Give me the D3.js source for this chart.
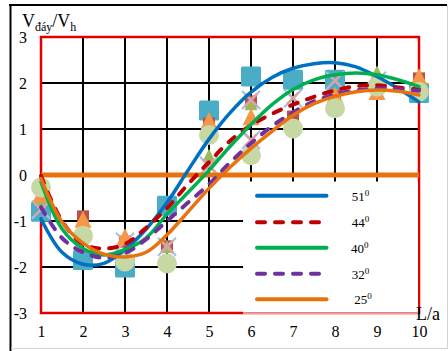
<!DOCTYPE html>
<html>
<head>
<meta charset="utf-8">
<script src="https://cdn.jsdelivr.net/npm/d3@7"></script>
<style>
  html, body { margin: 0; padding: 0; background: #fff; }
  svg { display: block; }
  text { font-family: "Liberation Serif", "Times New Roman", serif; fill: #000; }
</style>
</head>
<body>
<svg id="chart" width="448" height="351"></svg>
<script>
// L/a positions of the measured points
const xValues = [1, 2, 3, 4, 5, 6, 7, 8, 9, 10];
// sample positions of the fitted curves
const xFit = [1, 1.5, 2, 2.5, 3, 3.5, 4, 4.5, 5, 5.5, 6, 6.5, 7, 7.5, 8, 8.5, 9, 9.5, 10];

// fitted curves of V_day/V_h for each slope angle
const fit51 = [-0.95, -1.68, -1.94, -1.92, -1.62, -1.18, -0.6, 0.1, 0.78, 1.35, 1.8, 2.12, 2.32, 2.42, 2.44, 2.35, 2.14, 1.88, 1.59];
const fit44 = [-0.02, -1.0, -1.5, -1.6, -1.5, -1.15, -0.72, -0.2, 0.28, 0.74, 1.08, 1.33, 1.53, 1.7, 1.84, 1.93, 1.95, 1.9, 1.86];
const fit40 = [-0.15, -1.17, -1.6, -1.74, -1.62, -1.37, -0.85, -0.38, 0.1, 0.62, 1.1, 1.53, 1.86, 2.07, 2.18, 2.22, 2.18, 2.07, 1.92];
const fit32 = [-0.7, -1.37, -1.68, -1.8, -1.7, -1.4, -1.0, -0.6, -0.2, 0.27, 0.69, 1.06, 1.36, 1.6, 1.75, 1.84, 1.88, 1.87, 1.83];
const fit25 = [-0.08, -1.02, -1.48, -1.72, -1.78, -1.68, -1.3, -0.8, -0.29, 0.17, 0.58, 0.95, 1.3, 1.55, 1.71, 1.81, 1.85, 1.82, 1.74];

const angleLabels = ["51", "44", "40", "32", "25"];
const angleColors = ["#0070C0", "#C00000", "#00B050", "#7030A0", "#E8720C"];
const angleDashed = [false, true, false, true, false];

// measured points (null = no point)
const squarePts = [-0.8, -1.85, -2.01, -0.67, 1.4, 2.14, 2.07, 2.07, null, 1.78];
const redPts    = [null, -0.9, -1.45, -1.55, 1.12, 1.6, 1.27, 1.72, 1.95, 2.1];
const greenPts  = [-0.55, null, null, -1.58, 0.4, 1.52, null, null, 2.21, null];
const crossPts  = [-0.75, null, -1.45, -1.56, 0.2, 1.63, 1.67, 2.05, 2.05, null];
const crossPts2 = [null, null, null, null, null, 0.76, null, null, null, null];
const orangePts = [-0.45, -1.0, -1.38, null, 1.15, 1.23, null, 1.7, 1.78, 2.1];
const circlePts = [-0.27, -1.32, -1.88, -1.92, 0.87, 0.43, 1.01, 1.45, 1.92, 1.81];

const yTicks = [-3, -2, -1, 0, 1, 2, 3];
const xTicks = [1, 2, 3, 4, 5, 6, 7, 8, 9, 10];

const svg = d3.select("#chart");
const x = d3.scaleLinear().domain([1, 10]).range([41, 419]);
const y = d3.scaleLinear().domain([-3, 3]).range([313, 37]);

// outer frame
svg.append("line").attr("x1", 9).attr("x2", 447).attr("y1", 5).attr("y2", 5)
  .attr("stroke", "#000").attr("stroke-width", 2);
svg.append("line").attr("x1", 10.5).attr("x2", 10.5).attr("y1", 4).attr("y2", 351)
  .attr("stroke", "#000").attr("stroke-width", 2);
svg.append("line").attr("x1", 447.5).attr("x2", 447.5).attr("y1", 5).attr("y2", 349)
  .attr("stroke", "#d4d4d4").attr("stroke-width", 1);
svg.append("line").attr("x1", 11).attr("x2", 448).attr("y1", 348.5).attr("y2", 348.5)
  .attr("stroke", "#d4d4d4").attr("stroke-width", 1);

// grid
const grid = svg.append("g");
xTicks.filter(d => d > 1 && d < 10).forEach(d => {
  grid.append("line").attr("x1", x(d)).attr("x2", x(d)).attr("y1", y(3)).attr("y2", y(-3))
    .attr("stroke", "#000").attr("stroke-width", 2);
});
yTicks.filter(d => d > -3 && d < 3).forEach(d => {
  grid.append("line").attr("x1", x(1)).attr("x2", x(10)).attr("y1", y(d)).attr("y2", y(d))
    .attr("stroke", "#000").attr("stroke-width", 2);
});
// plot border
grid.append("rect").attr("x", x(1)).attr("y", y(3))
  .attr("width", x(10) - x(1)).attr("height", y(-3) - y(3))
  .attr("fill", "none").attr("stroke", "#E00000").attr("stroke-width", 2.5);

// markers
const mk = svg.append("g");
function pts(arr) { return xValues.map((v, i) => [v, arr[i]]).filter(d => d[1] !== null); }
const triPath = s => `M0,${-s * 0.6}L${s * 0.5},${s * 0.4}L${-s * 0.5},${s * 0.4}Z`;

mk.selectAll(".sq").data(pts(squarePts)).join("rect")
  .attr("x", d => x(d[0]) - 10).attr("y", d => y(d[1]) - 10)
  .attr("width", 20).attr("height", 20).attr("rx", 1.5)
  .attr("fill", "#4BACC6");
mk.selectAll(".rd").data(pts(redPts)).join("rect")
  .attr("x", d => x(d[0]) - 6).attr("y", d => y(d[1]) - 6)
  .attr("width", 12).attr("height", 12)
  .attr("fill", "#B9514A");
mk.selectAll(".gr").data(pts(greenPts)).join("path")
  .attr("transform", d => `translate(${x(d[0])},${y(d[1])})`)
  .attr("d", triPath(13)).attr("fill", "#9BBB59");
[crossPts, crossPts2].forEach(arr => {
  const g = mk.append("g").selectAll("g").data(pts(arr)).join("g")
    .attr("transform", d => `translate(${x(d[0])},${y(d[1])})`);
  g.append("path").attr("d", "M-9,-9L9,9M9,-9L-9,9")
    .attr("stroke", "#A7C0E0").attr("stroke-width", 2.2);
  g.append("path").attr("d", "M-6,-6L6,6M6,-6L-6,6")
    .attr("stroke", "#D8A2A6").attr("stroke-width", 2.6);
});
mk.selectAll(".or").data(pts(orangePts)).join("path")
  .attr("transform", d => `translate(${x(d[0])},${y(d[1])})`)
  .attr("d", triPath(17)).attr("fill", "#F79646");
mk.selectAll(".ci").data(pts(circlePts)).join("circle")
  .attr("cx", d => x(d[0])).attr("cy", d => y(d[1])).attr("r", 10)
  .attr("fill", "#C6D8A3");

// zero line
svg.append("line").attr("x1", x(1)).attr("x2", x(10)).attr("y1", y(0)).attr("y2", y(0))
  .attr("stroke", "#E8720C").attr("stroke-width", 5);

// fitted curves
const fits = [fit51, fit44, fit40, fit32, fit25];
const line = d3.line().x(d => x(d[0])).y(d => y(d[1])).curve(d3.curveCatmullRom.alpha(0.5));
fits.forEach((f, i) => {
  svg.append("path").datum(xFit.map((v, j) => [v, f[j]]))
    .attr("d", line).attr("fill", "none")
    .attr("stroke", angleColors[i]).attr("stroke-width", angleDashed[i] ? 4 : 3.5)
    .attr("stroke-linecap", "round")
    .attr("stroke-dasharray", angleDashed[i] ? "8 10" : null);
});

// legend
const lg = svg.append("g");
lg.append("rect").attr("x", 243).attr("y", 181.5).attr("width", 175).attr("height", 131)
  .attr("fill", "#fff");
lg.append("line").attr("x1", 243).attr("x2", 418).attr("y1", 313.5).attr("y2", 313.5)
  .attr("stroke", "#dba6a6").attr("stroke-width", 1);
const legendY = [195.7, 222.3, 247.7, 273.7, 299.3];
const labelX = [351.7, 351.7, 351, 351.7, 354.3];
angleLabels.forEach((lab, i) => {
  lg.append("line").attr("x1", 257).attr("x2", 326.5)
    .attr("y1", legendY[i]).attr("y2", legendY[i])
    .attr("stroke", angleColors[i]).attr("stroke-width", 4)
    .attr("stroke-linecap", "round")
    .attr("stroke-dasharray", angleDashed[i] ? "8 10" : null);
  const t = lg.append("text").attr("x", labelX[i]).attr("y", legendY[i] + 5)
    .style("font-size", "13px");
  t.append("tspan").text(lab);
  t.append("tspan").attr("dy", -5).style("font-size", "9px").text("0");
});

// axes (labels only)
svg.append("g").attr("transform", `translate(${x(1)},0)`)
  .call(d3.axisLeft(y).tickValues(yTicks).tickSize(0).tickPadding(14).tickFormat(d => String(d)))
  .call(g => g.select(".domain").remove())
  .call(g => g.selectAll("text").style("font-size", "16px")
    .style("font-family", "'Liberation Serif', serif").attr("fill", "#000"));
svg.append("g").attr("transform", `translate(0,${y(-3)})`)
  .call(d3.axisBottom(x).tickValues(xTicks).tickSize(0).tickPadding(13).tickFormat(d => String(d)))
  .call(g => g.select(".domain").remove())
  .call(g => g.selectAll("text").style("font-size", "16px")
    .style("font-family", "'Liberation Serif', serif").attr("fill", "#000"));

// axis titles
const yt = svg.append("text").attr("x", 22).attr("y", 26.5).style("font-size", "18px");
yt.append("tspan").text("V");
yt.append("tspan").attr("dy", 4).style("font-size", "12px").text("đáy");
yt.append("tspan").attr("dy", -4).text("/V");
yt.append("tspan").attr("dy", 4).style("font-size", "12px").text("h");

svg.append("text").attr("x", 416).attr("y", 320).style("font-size", "18px").text("L/a");
</script>
</body>
</html>
